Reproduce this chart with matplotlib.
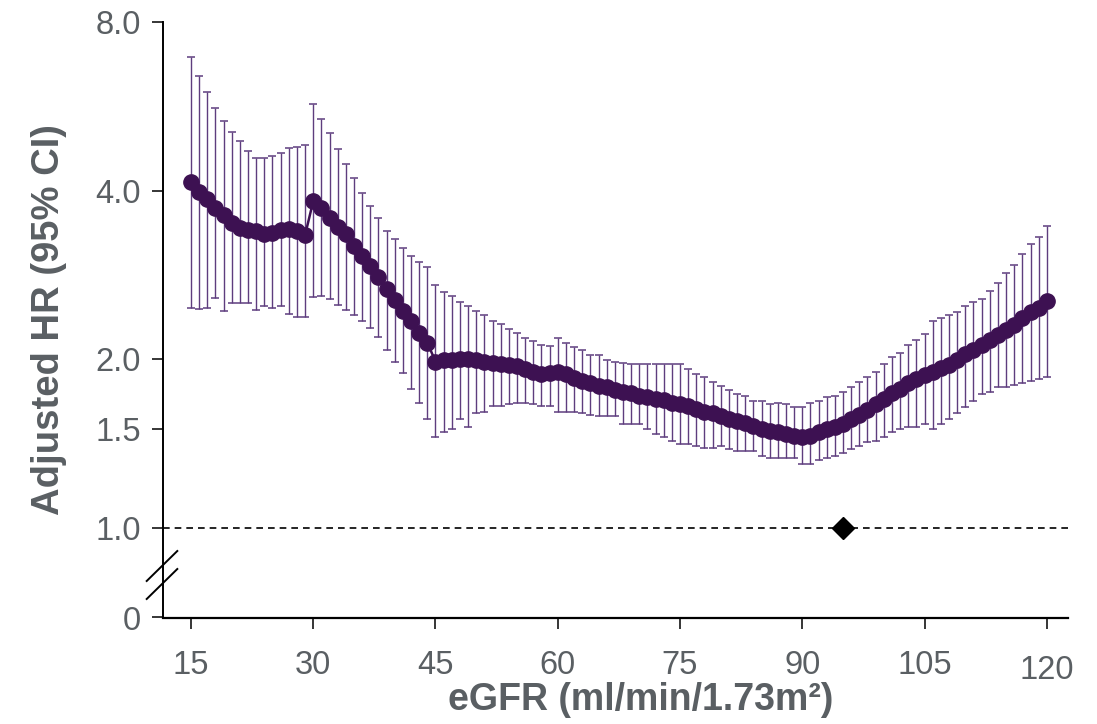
import numpy as np
import matplotlib
matplotlib.use("Agg")
import matplotlib.pyplot as plt
from matplotlib.lines import Line2D

plt.rcParams['font.family'] = ['Liberation Sans', 'DejaVu Sans']

egfr = list(range(15, 121))

hr = [4.15, 3.98, 3.87, 3.72, 3.61, 3.50, 3.43, 3.40, 3.39, 3.34,
      3.36, 3.40, 3.42, 3.39, 3.33, 3.83, 3.72, 3.58, 3.45, 3.34,
      3.19, 3.05, 2.93, 2.80, 2.67, 2.55, 2.44, 2.34, 2.23, 2.14,
      1.98, 1.99, 1.99, 2.00, 2.00, 1.99, 1.98, 1.97, 1.96, 1.95,
      1.94, 1.92, 1.90, 1.88, 1.89, 1.90, 1.88, 1.85, 1.83, 1.81,
      1.79, 1.78, 1.76, 1.75, 1.74, 1.72, 1.71, 1.70, 1.69, 1.67,
      1.66, 1.65, 1.63, 1.61, 1.60, 1.58, 1.56, 1.55, 1.54, 1.52,
      1.50, 1.49, 1.48, 1.47, 1.46, 1.45, 1.46, 1.48, 1.50, 1.51,
      1.53, 1.56, 1.59, 1.62, 1.66, 1.70, 1.74, 1.77, 1.81, 1.84,
      1.87, 1.90, 1.93, 1.95, 1.99, 2.04, 2.08, 2.12, 2.16, 2.21,
      2.25, 2.30, 2.37, 2.43, 2.47, 2.54]

upper = [6.93, 6.41, 5.99, 5.61, 5.33, 5.08, 4.90, 4.70, 4.57, 4.57,
         4.62, 4.66, 4.76, 4.79, 4.83, 5.70, 5.36, 5.06, 4.75, 4.46,
         4.22, 3.96, 3.76, 3.58, 3.39, 3.28, 3.16, 3.05, 2.98, 2.92,
         2.71, 2.64, 2.59, 2.53, 2.49, 2.44, 2.40, 2.34, 2.31, 2.26,
         2.23, 2.18, 2.15, 2.12, 2.11, 2.18, 2.14, 2.10, 2.08, 2.03,
         2.03, 1.99, 1.98, 1.97, 1.96, 1.96, 1.96, 1.96, 1.96, 1.96,
         1.96, 1.92, 1.88, 1.86, 1.82, 1.79, 1.76, 1.73, 1.72, 1.68,
         1.68, 1.66, 1.67, 1.66, 1.64, 1.64, 1.67, 1.68, 1.71, 1.72,
         1.75, 1.78, 1.82, 1.86, 1.90, 1.96, 2.02, 2.05, 2.12, 2.16,
         2.22, 2.34, 2.37, 2.40, 2.43, 2.49, 2.53, 2.56, 2.65, 2.74,
         2.85, 2.95, 3.08, 3.21, 3.31, 3.46]

lower = [2.47, 2.46, 2.47, 2.57, 2.44, 2.52, 2.52, 2.52, 2.45, 2.49,
         2.47, 2.49, 2.41, 2.38, 2.38, 2.58, 2.59, 2.56, 2.50, 2.45,
         2.40, 2.34, 2.27, 2.19, 2.08, 1.98, 1.89, 1.77, 1.67, 1.56,
         1.45, 1.48, 1.50, 1.56, 1.51, 1.60, 1.61, 1.65, 1.65, 1.66,
         1.67, 1.67, 1.66, 1.65, 1.65, 1.61, 1.61, 1.61, 1.60, 1.59,
         1.58, 1.58, 1.58, 1.53, 1.53, 1.53, 1.50, 1.47, 1.45, 1.43,
         1.41, 1.41, 1.40, 1.39, 1.39, 1.40, 1.38, 1.37, 1.37, 1.37,
         1.34, 1.33, 1.33, 1.33, 1.33, 1.30, 1.30, 1.32, 1.33, 1.34,
         1.36, 1.38, 1.40, 1.42, 1.43, 1.45, 1.48, 1.50, 1.51, 1.51,
         1.53, 1.50, 1.53, 1.56, 1.60, 1.64, 1.68, 1.73, 1.75, 1.78,
         1.78, 1.80, 1.81, 1.83, 1.84, 1.86]

ref_egfr = 95
ref_hr = 1.0

y_bottom = 0.691
ytick_vals = [y_bottom, 1.0, 1.5, 2.0, 4.0, 8.0]
ytick_labels = ["0", "1.0", "1.5", "2.0", "4.0", "8.0"]
xtick_vals = [15, 30, 45, 60, 75, 90, 105, 120]

dot_col = "#3d1152"
bar_col = "#5e3d7e"
txt_col = "#5a5f63"

hr_a = np.array(hr)
err = [hr_a - np.array(lower), np.array(upper) - hr_a]

W, H = 1097, 724
fig = plt.figure(figsize=(W / 100, H / 100), dpi=100)
ax = fig.add_axes([163 / W, 1 - 617.5 / H, (1068 - 163) / W, (617.5 - 22) / H])

ax.axhline(1.0, color="black", linestyle=(0, (4, 3)), linewidth=1.2, zorder=1)
ax.errorbar(egfr, hr, yerr=err, fmt="none", ecolor=bar_col, elinewidth=1.0,
            capsize=3, capthick=1.1, zorder=2)
ax.plot(egfr, hr, "-o", color=dot_col, markersize=11, linewidth=1.8, zorder=3)
ax.plot([ref_egfr], [ref_hr], "D", color="black", markersize=11, zorder=4)

ax.set_yscale("log", base=2)
ax.set_ylim(y_bottom, 8.0)
ax.set_xlim(11.57, 122.6)
ax.set_yticks(ytick_vals)
ax.set_yticklabels(ytick_labels)
ax.minorticks_off()
ax.set_xticks(xtick_vals)
ax.set_xticklabels([str(v) for v in xtick_vals])

for s in ["top", "right"]:
    ax.spines[s].set_visible(False)
ax.spines["left"].set_linewidth(1.4)
ax.spines["bottom"].set_linewidth(1.6)

ax.tick_params(axis="both", direction="out", length=8, width=1.1,
               colors="black", labelcolor=txt_col, labelsize=23.5)
ax.tick_params(axis="y", pad=8)
ax.tick_params(axis="x", pad=15.5)
ax.xaxis.get_major_ticks()[-1].set_pad(19)

ax.set_xlabel("eGFR (ml/min/1.73m²)", fontsize=27, fontweight="bold",
              color=txt_col, labelpad=-3)
ax.xaxis.label.set_x((641 - 163) / 905)
ax.set_ylabel("Adjusted HR (95% CI)", fontsize=27.5, fontweight="bold",
              color=txt_col, labelpad=20)

# axis break marks
for y0 in (581, 599):
    fig.add_artist(Line2D([146.7 / W, 177.3 / W],
                          [1 - y0 / H, 1 - (y0 - 30) / H],
                          color="black", linewidth=1.4))

fig.savefig("out.png", dpi=100)
